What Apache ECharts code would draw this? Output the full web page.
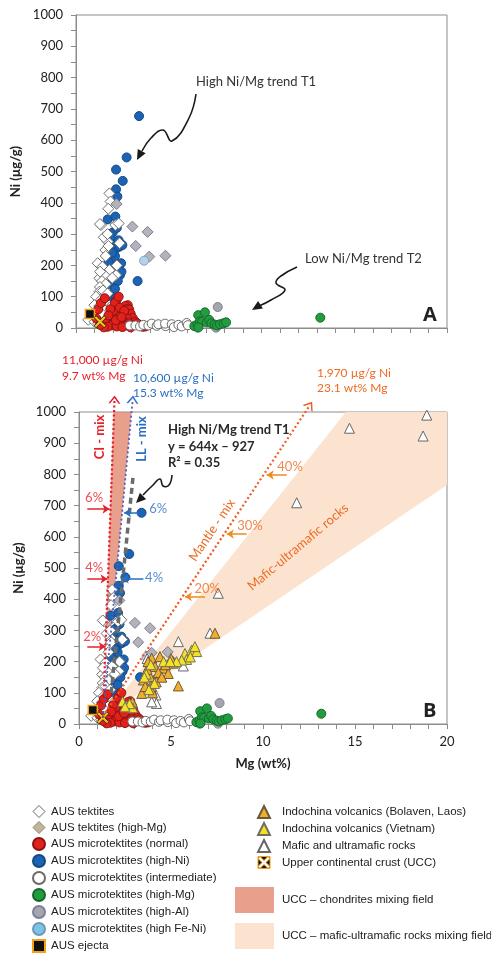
<!DOCTYPE html>
<html>
<head>
<meta charset="utf-8">
<title>Ni vs Mg</title>
<script src="https://cdn.jsdelivr.net/npm/echarts@6/dist/echarts.min.js"></script>
<style>
html, body { margin: 0; padding: 0; background: #fff; }
#chart { width: 491px; height: 954px; }
</style>
</head>
<body>
<div id="chart"></div>
<script>
// every point is [Mg (wt%), Ni (µg/g)]
const tektites = [[1.80,430],[1.86,404],[1.74,381],[1.35,329],[2.12,329],[1.29,332],[2.30,334],[1.71,276],[2.35,271],[1.58,249],[1.75,262],
  [1.17,207],[1.43,196],[1.80,185],[2.16,169],[1.26,159],[1.55,168],[1.40,150],[1.60,140],[1.29,131],[1.26,116],[1.62,105],[1.08,100],
  [1.45,120],[1.70,110],[1.35,90],[0.99,73],[1.55,85],[1.25,70],[1.50,60],[1.89,47],[1.10,40],[1.40,45],[0.66,26],[1.00,20],[1.65,30],
  [1.20,15],[1.95,160],[1.60,230],[1.50,290],[1.70,300],[2.20,200],[1.30,180]];
const tektitesHiMg = [[2.19,396],[3.04,324],[3.86,307],[3.22,262],[3.95,228],[4.82,231]];
const normal = [[2.19,89],[2.10,80],[2.79,73],[2.65,70],[2.72,60],[2.87,59],[2.50,52],[2.95,45],[2.40,45],[2.60,40],[2.20,38],[1.95,35],
  [3.05,32],[2.75,30],[2.30,28],[1.80,25],[2.55,22],[3.20,20],[2.05,18],[2.85,15],[1.60,15],[2.40,12],[3.40,10],[1.90,8],[2.70,8],
  [3.00,6],[2.20,5],[1.70,4],[2.50,3],[3.60,4],[1.50,2],[2.95,2],[2.00,55],[2.35,65],[1.85,60],[2.60,55],[3.30,15],[2.15,25],[1.75,40],
  [2.45,35],[1.20,60],[1.10,30],[1.35,80],[3.75,5],[1.55,95],[2.30,100],[1.30,10]];
const hiNi = [[3.40,677],[2.73,545],[2.16,506],[2.52,470],[2.16,443],[2.23,420],[1.71,347],[2.12,356],[1.98,305],[1.99,275],[2.19,255],
  [2.43,207],[2.37,169],[2.15,155],[3.32,150],[2.01,111],[2.30,190],[2.10,230],[1.85,290],[2.30,280],[1.95,240],[2.05,200],[1.90,180],
  [2.25,150],[1.80,140],[2.10,125],[1.95,100],[2.35,260],[1.41,189],[2.20,320],[2.50,265],[2.45,180],[1.75,210],[2.15,95]];
const intermediate = [[2.90,8],[3.20,8],[3.45,5],[3.63,10],[3.90,8],[4.08,14],[4.35,7],[4.44,12],[4.83,6],[4.80,14],[5.16,12],[5.28,3],
  [5.52,10],[5.70,5],[5.97,16],[6.03,9]];
const hiAl = [[7.64,67],[6.55,1],[7.55,1]];
const hiMg = [[6.38,6],[6.55,12],[6.59,41],[6.68,21],[6.80,20],[6.95,50],[7.05,18],[7.18,26],[7.30,15],[7.47,11],[7.60,8],[7.76,12],
  [7.95,15],[8.09,18],[6.60,2],[13.17,33]];
const hiFeNi = [[3.67,215]];
const ejecta = [[0.75,45]];
const ucc = [[1.30,20]];
const mafic = [[18.9,990],[18.7,923],[14.7,948],[11.83,709],[7.57,419],[7.12,291],[5.40,264],[5.67,186],[5.13,200],[4.58,162],
  [4.18,93],[4.04,77],[4.21,66],[3.95,110],[4.05,140],[3.70,210],[3.95,71]];
const bolaven = [[3.95,211],[4.40,216],[4.13,184],[4.58,179],[3.86,152],[4.31,165],[4.85,162],[5.13,195],[3.95,120],[5.40,122],
  [7.39,291],[3.50,141],[3.41,98],[3.70,175],[4.20,135],[4.70,190],[4.00,100],[3.75,200],[5.00,210],[4.50,150],[3.60,120],[2.60,60],[2.90,70]];
const vietnam = [[5.76,226],[6.12,237],[6.40,232],[6.30,248],[5.85,207],[6.05,215],[5.58,205],[5.30,200],[2.37,72],[2.92,52],[2.75,65],
  [2.50,55],[3.90,190],[3.65,160],[4.10,130],[3.80,110],[4.60,200],[4.95,200],[3.55,150]];

// mixing fields and lines (panel B)
const fieldCI = [[1.3,20],[1.87,1000],[2.86,1000]];
const fieldMafic = [[1.3,20],[14.5,1000],[20,1000],[20,766]];
const ciLine = [[1.3,20],[1.93,1040]];
const llLine = [[1.3,20],[2.92,1040]];
const mantleLine = [[1.3,25],[12.55,1022]];
const trendLine = [[1.75,100],[2.95,800]];
// percent marks: [label, arrow tail Mg, arrow tip Mg, Ni]
const ciPct = [['6%',0.45,1.66,689],['4%',0.45,1.55,465],['2%',0.45,1.45,248]];
const llPct = [['6%',3.25,2.45,677],['4%',3.5,2.32,465]];
const mantlePct = [['40%',11.29,10.2,798],['30%',9.11,8.03,609],['20%',6.85,5.76,408]];
// percent label positions: [Mg, Ni, text]
const ciLabels = [[0.82,724,'6%'],[0.83,499,'4%'],[0.72,280,'2%']];
const llLabels = [[4.31,689,'6%'],[4.08,467,'4%']];
const mantleLabels = [[11.47,825,'40%'],[9.29,635,'30%'],[6.97,432,'20%']];

const AX = '#8c8c8c';
const FONT = 'Lato';
const RED = '#e8202a', BLUE = '#2a6fc0', ORANGE = '#ee6a22';
const xPath = 'path://M2,0 L6,4 L10,0 L12,2 L8,6 L12,10 L10,12 L6,8 L2,12 L0,10 L4,6 L0,2 Z';
const uccIcon = 'path://M0,0 L12,0 L12,12 L0,12 Z M2,0 L0,2 L4,6 L0,10 L2,12 L6,8 L10,12 L12,10 L8,6 L12,2 L10,0 L6,4 Z';
const chevron = 'path://M0,8 L6,0 L12,8 L10.2,8 L6,2.4 L1.8,8 Z';

function xAx(g, labels) {
  return {
    gridIndex: g, type: 'value', min: 0, max: 20, interval: 5,
    axisLine: { onZero: false, lineStyle: { color: AX } },
    axisTick: { show: true, length: 5, lineStyle: { color: AX } },
    minorTick: { show: true, splitNumber: 5, length: 5, lineStyle: { color: AX } },
    splitLine: { show: false },
    axisLabel: { show: labels, margin: 11, fontSize: 13, color: '#222', fontFamily: FONT },
    name: labels ? 'Mg (wt%)' : '', nameLocation: 'middle', nameGap: 33,
    nameTextStyle: { fontWeight: 'bold', fontSize: 13, color: '#222', fontFamily: FONT }
  };
}
function yAx(g) {
  return {
    gridIndex: g, type: 'value', min: 0, max: 1000, interval: 100,
    axisLine: { onZero: false, lineStyle: { color: AX } },
    axisTick: { show: true, length: 5, lineStyle: { color: AX } },
    minorTick: { show: true, splitNumber: 2, length: 5, lineStyle: { color: AX } },
    splitLine: { show: false },
    axisLabel: { margin: 13, fontSize: 13, color: '#222', fontFamily: FONT, formatter: v => String(v) },
    name: 'Ni (µg/g)', nameLocation: 'middle', nameGap: 36,
    nameTextStyle: { fontWeight: 'bold', fontSize: 13, color: '#222', fontFamily: FONT }
  };
}

function scat(name, data, sym, size, fill, border, panels, bw) {
  return panels.map(g => ({
    type: 'scatter', name: name, xAxisIndex: g, yAxisIndex: g, data: data,
    symbol: sym, symbolSize: size, silent: true,
    itemStyle: { color: fill, borderColor: border, borderWidth: bw || 1, opacity: 1 }
  }));
}
function field(name, pts, fill) {
  return {
    type: 'custom', name: name, xAxisIndex: 1, yAxisIndex: 1, silent: true,
    itemStyle: { color: fill }, data: [pts[0]],
    renderItem: function (params, api) {
      return { type: 'polygon', shape: { points: pts.map(p => api.coord(p)) }, style: { fill: fill } };
    }
  };
}
function mixLine(data, color, width, dash, arrows) {
  const s = {
    type: 'line', xAxisIndex: 1, yAxisIndex: 1, data: data, symbol: 'none', clip: false, silent: true,
    lineStyle: { color: color, width: width, type: dash }
  };
  if (arrows) {
    s.markLine = {
      silent: true, symbol: ['none', 'arrow'], symbolSize: 7, label: { show: false },
      lineStyle: { color: arrows.color, width: 1.5, type: 'solid' },
      data: arrows.list.map(a => [{ coord: [a[1], a[3]] }, { coord: [a[2], a[3]] }])
    };
  }
  return s;
}
function tip(pt, color, rot) {
  return {
    type: 'scatter', xAxisIndex: 1, yAxisIndex: 1, data: [pt], clip: false, silent: true,
    symbol: chevron, symbolSize: [12, 8], symbolRotate: rot,
    itemStyle: { color: color, opacity: 1 }
  };
}
function labels(data, color) {
  return {
    type: 'scatter', xAxisIndex: 1, yAxisIndex: 1, data: data, silent: true, symbolSize: 1,
    itemStyle: { color: 'rgba(0,0,0,0)' },
    label: { show: true, position: 'inside', formatter: p => p.value[2], color: color, fontSize: 13, fontFamily: FONT }
  };
}

const both = [0, 1];
const series = [].concat(
  field('UCC – mafic-ultramafic rocks mixing field', fieldMafic, '#fbe3cf'),
  scat('AUS microtektites (high-Ni)', hiNi, 'circle', 9, '#1c64b3', '#124a86', both),
  scat('AUS tektites', tektites, 'diamond', 11, '#ffffff', '#6e6e6e', both),
  scat('AUS tektites (high-Mg)', tektitesHiMg, 'diamond', 11, '#b3b3b9', '#7d7a96', both),
  scat('AUS microtektites (normal)', normal, 'circle', 9, '#e3211b', '#8c1411', both),
  scat('AUS microtektites (intermediate)', intermediate, 'circle', 9, '#ffffff', '#6a6a6a', both),
  scat('AUS microtektites (high-Al)', hiAl, 'circle', 9, '#a5a7ab', '#7b7f9c', both),
  scat('AUS microtektites (high-Mg)', hiMg, 'circle', 9, '#239b3f', '#136a2a', both),
  scat('AUS microtektites (high Fe-Ni)', hiFeNi, 'circle', 9, '#b4d2ee', '#8aa0bc', both),
  scat('Mafic and ultramafic rocks', mafic, 'triangle', 10, '#ffffff', '#666666', [1]),
  scat('Indochina volcanics (Bolaven, Laos)', bolaven, 'triangle', 10, '#f2ad2c', '#6a5a3a', [1]),
  scat('Indochina volcanics (Vietnam)', vietnam, 'triangle', 10, '#f6e223', '#707060', [1]),
  scat('AUS ejecta', ejecta, 'rect', 9, '#111111', '#f0a318', both, 1.5),
  scat('Upper continental crust (UCC)', ucc, xPath, 12, '#f2c318', '#111111', both, 0.8),
  field('UCC – chondrites mixing field', fieldCI, 'rgba(224,128,102,0.75)'),
  mixLine(trendLine, '#6b6b6b', 3.5, [6, 4]),
  mixLine(ciLine, '#e8192c', 2.2, [2, 2.5], { color: RED, list: ciPct }),
  mixLine(llLine, '#4a5fc0', 1.8, [2, 2.5], { color: BLUE, list: llPct }),
  mixLine(mantleLine, '#ee5a1e', 2.2, [2, 2.5], { color: '#f08a20', list: mantlePct }),
  tip(ciLine[1], '#e8192c', -2),
  tip(llLine[1], '#3a6ac8', -5),
  tip(mantleLine[1], '#ee5a1e', -34),
  labels(ciLabels, RED),
  labels(llLabels, BLUE),
  labels(mantleLabels, ORANGE)
);

function txt(x, y, text, opt) {
  opt = opt || {};
  return {
    type: 'text', x: x, y: y, rotation: (opt.rot || 0) * Math.PI / 180, silent: true, z: 100,
    style: {
      text: text, fill: opt.color || '#333', align: opt.align || 'left', verticalAlign: 'middle',
      font: (opt.bold ? 'bold ' : '') + (opt.size || 13) + 'px ' + (opt.family || FONT)
    }
  };
}
function curve(points, headTip, headDir) {
  const dx = headDir[0], dy = headDir[1];
  const bx = headTip[0] - dx * 10, by = headTip[1] - dy * 10;
  return [
    { type: 'polyline', silent: true, z: 100, shape: { points: points, smooth: 0.45 },
      style: { stroke: '#1a1a1a', lineWidth: 1.6, fill: null } },
    { type: 'polygon', silent: true, z: 100,
      shape: { points: [headTip, [bx - dy * 4.5, by + dx * 4.5], [bx + dy * 4.5, by - dx * 4.5]] },
      style: { fill: '#1a1a1a' } }
  ];
}

const graphic = [].concat(
  txt(196, 82, 'High Ni/Mg trend T1'),
  txt(305, 259, 'Low Ni/Mg trend T2'),
  txt(423, 315, 'A', { bold: true, size: 20, color: '#222', family: 'Open Sans' }),
  curve([[196, 94], [189, 118], [172, 141], [163, 130], [151, 138], [142, 151]], [137, 160], [-0.47, 0.88]),
  curve([[297, 267], [281, 276], [276, 283], [285, 290], [271, 300], [259, 306]], [252, 310], [-0.85, 0.53]),
  txt(62, 360, '11,000 µg/g Ni', { color: RED, size: 12 }),
  txt(62, 376, '9.7 wt% Mg', { color: RED, size: 12 }),
  txt(133, 378, '10,600 µg/g Ni', { color: BLUE, size: 12 }),
  txt(133, 393, '15.3 wt% Mg', { color: BLUE, size: 12 }),
  txt(317, 373, '1,970 µg/g Ni', { color: ORANGE, size: 12 }),
  txt(317, 388, '23.1 wt% Mg', { color: ORANGE, size: 12 }),
  txt(100, 437, 'CI - mix', { color: RED, bold: true, align: 'center', rot: 90 }),
  txt(142, 439, 'LL - mix', { color: BLUE, bold: true, align: 'center', rot: 90 }),
  txt(168, 430, 'High Ni/Mg trend T1', { bold: true, color: '#2a2a2a' }),
  txt(168, 447, 'y = 644x – 927', { bold: true, color: '#2a2a2a' }),
  txt(168, 463, 'R² = 0.35', { bold: true, color: '#2a2a2a' }),
  curve([[172, 475], [169, 485], [163, 486], [160, 479], [152, 486], [143, 495]], [136, 503], [-0.7, 0.7]),
  txt(212, 530, 'Mantle - mix', { color: ORANGE, align: 'center', rot: 56 }),
  txt(298, 547, 'Mafic-ultramafic rocks', { color: ORANGE, align: 'center', rot: 40 }),
  txt(423, 711, 'B', { bold: true, size: 20, color: '#222', family: 'Open Sans' })
);

const legendText = { fontFamily: 'Liberation Sans', fontSize: 11.5, color: '#222' };
function legendCol(left, top, data, pad) {
  return {
    left: left, top: top, height: 150, padding: 0, orient: 'vertical', itemWidth: 12, itemHeight: 12, itemGap: 3,
    selectedMode: false, textStyle: Object.assign({ padding: [0, 0, 0, pad] }, legendText), data: data
  };
}
const option = {
  animation: false,
  grid: [
    { left: 76, top: 15, width: 371, height: 313, show: true, borderColor: AX, borderWidth: 1 },
    { left: 79, top: 412, width: 368, height: 312, show: true, borderColor: AX, borderWidth: 1 }
  ],
  xAxis: [xAx(0, false), xAx(1, true)],
  yAxis: [yAx(0), yAx(1)],
  legend: [
    legendCol(32, 805, [
      { name: 'AUS tektites', icon: 'diamond', itemStyle: { color: '#fff', borderColor: '#666', borderWidth: 1 } },
      { name: 'AUS tektites (high-Mg)', icon: 'diamond', itemStyle: { color: '#c2b49c', borderColor: '#8a8070', borderWidth: 1 } },
      { name: 'AUS microtektites (normal)', icon: 'circle' },
      { name: 'AUS microtektites (high-Ni)', icon: 'circle' },
      { name: 'AUS microtektites (intermediate)', icon: 'circle' },
      { name: 'AUS microtektites (high-Mg)', icon: 'circle' },
      { name: 'AUS microtektites (high-Al)', icon: 'circle' },
      { name: 'AUS microtektites (high Fe-Ni)', icon: 'circle', itemStyle: { color: '#7ec3e6', borderColor: '#6a9ab8' } },
      { name: 'AUS ejecta', icon: 'rect' }
    ], 1),
    legendCol(257, 805, [
      { name: 'Indochina volcanics (Bolaven, Laos)', icon: 'triangle' },
      { name: 'Indochina volcanics (Vietnam)', icon: 'triangle' },
      { name: 'Mafic and ultramafic rocks', icon: 'triangle' },
      { name: 'Upper continental crust (UCC)', icon: uccIcon, itemStyle: { color: '#111', borderColor: '#f0a318', borderWidth: 1 } }
    ], 7),
    {
      left: 235, top: 887, padding: 0, orient: 'vertical', itemWidth: 39, itemHeight: 26, itemGap: 10,
      selectedMode: false, textStyle: Object.assign({ padding: [0, 0, 0, 3] }, legendText),
      data: [
        { name: 'UCC – chondrites mixing field', icon: 'rect', itemStyle: { color: '#e8a08c' } },
        { name: 'UCC – mafic-ultramafic rocks mixing field', icon: 'rect', itemStyle: { color: '#fbe3cf' } }
      ]
    }
  ],
  graphic: graphic,
  series: series
};

const chart = echarts.init(document.getElementById('chart'), null, { renderer: 'canvas' });
chart.setOption(option);
</script>
</body>
</html>
